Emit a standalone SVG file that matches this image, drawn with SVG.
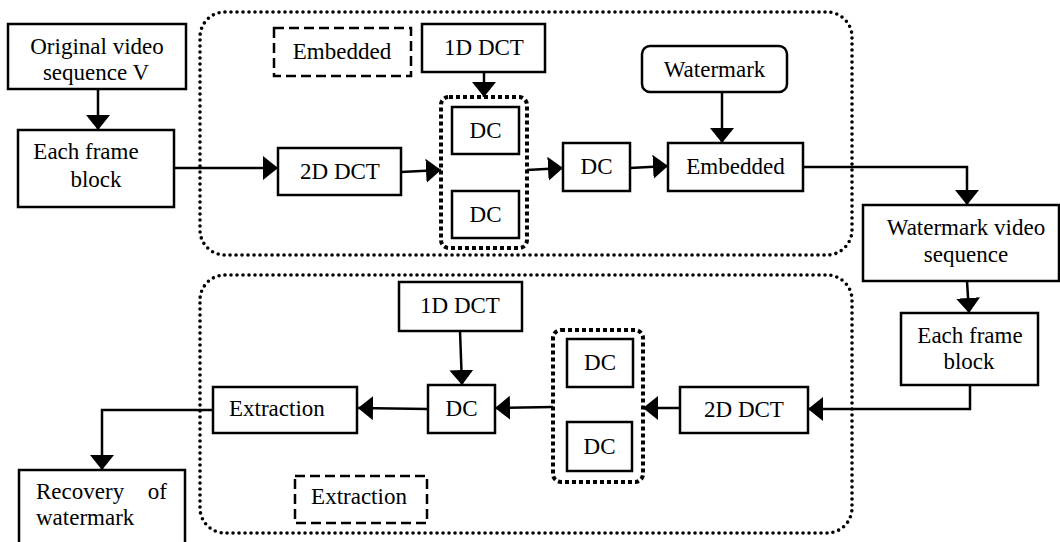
<svg xmlns="http://www.w3.org/2000/svg" width="1060" height="542" viewBox="0 0 1060 542">
  <defs>
    <marker id="arrow" markerUnits="userSpaceOnUse" markerWidth="16" markerHeight="24" refX="15" refY="12" orient="auto">
      <path d="M0,0 L15,12 L0,24 Z" fill="#000"/>
    </marker>
    <style>
      .box { fill: #fff; stroke: #000; stroke-width: 2.5; }
      .dash { fill: none; stroke: #000; stroke-width: 2.5; stroke-dasharray: 10 5; }
      .region { fill: none; stroke: #000; stroke-width: 3.6; stroke-linecap: round; stroke-dasharray: 0 6; }
      .group { fill: none; stroke: #000; stroke-width: 4; stroke-dasharray: 4 3; }
      .edge { fill: none; stroke: #000; stroke-width: 2.5; marker-end: url(#arrow); }
      text { font-family: "Liberation Serif", "Times New Roman", serif; font-size: 23px; fill: #000; }
      .c { text-anchor: middle; }
    </style>
  </defs>

  <!-- dotted regions: embedding (top) and extraction (bottom) -->
  <g id="regions">
    <rect class="region" x="200" y="12" width="652" height="243" rx="25"/>
    <rect class="region" x="200" y="275" width="652" height="258" rx="25"/>
  </g>

  <!-- connectors -->
  <g id="connectors">
    <path class="edge" d="M98,89 L98,130"/>
    <path class="edge" d="M174,168 L278,168"/>
    <path class="edge" d="M401,172 L441,170"/>
    <path class="edge" d="M484,72 L484,97"/>
    <path class="edge" d="M527,170 L563,168"/>
    <path class="edge" d="M630,168 L668,166"/>
    <path class="edge" d="M722,92 L722,143"/>
    <path class="edge" d="M803,167 L967,167 L967,205"/>
    <path class="edge" d="M967,281 L969,313"/>
    <path class="edge" d="M970,385 L970,409 L808,409"/>
    <path class="edge" d="M680,408 L643,408"/>
    <path class="edge" d="M553,407 L495,408"/>
    <path class="edge" d="M460,331 L462,385"/>
    <path class="edge" d="M428,409 L358,408"/>
    <path class="edge" d="M213,410 L102,410 L102,470"/>
  </g>

  <!-- embedding side -->
  <g id="original-video">
    <rect class="box" x="8" y="24" width="178" height="65"/>
    <text class="c" x="97" y="54">Original video</text>
    <text class="c" x="96" y="80">sequence V</text>
  </g>
  <g id="frame-block-1">
    <rect class="box" x="18" y="130" width="156" height="77"/>
    <text class="c" x="86" y="159">Each frame</text>
    <text class="c" x="96" y="187">block</text>
  </g>
  <g id="label-embedded">
    <rect class="dash" x="274" y="28" width="137" height="48"/>
    <text class="c" x="342" y="59">Embedded</text>
  </g>
  <g id="dct2d-1">
    <rect class="box" x="278" y="148" width="123" height="47"/>
    <text class="c" x="340" y="179">2D DCT</text>
  </g>
  <g id="dct1d-1">
    <rect class="box" x="422" y="24" width="123" height="48"/>
    <text class="c" x="484" y="55">1D DCT</text>
  </g>
  <g id="dc-group-1">
    <rect class="group" x="441" y="97" width="86" height="151" rx="8"/>
    <rect class="box" x="452" y="107" width="67" height="47"/>
    <text class="c" x="485.5" y="138">DC</text>
    <rect class="box" x="452" y="191" width="67" height="47"/>
    <text class="c" x="485.5" y="222">DC</text>
  </g>
  <g id="dc-1">
    <rect class="box" x="563" y="143" width="67" height="48"/>
    <text class="c" x="596.5" y="174">DC</text>
  </g>
  <g id="watermark">
    <rect class="box" x="642" y="46" width="145" height="46" rx="8"/>
    <text class="c" x="714.5" y="77">Watermark</text>
  </g>
  <g id="embedded">
    <rect class="box" x="668" y="143" width="135" height="48"/>
    <text class="c" x="735.5" y="174">Embedded</text>
  </g>
  <g id="watermark-video">
    <rect class="box" x="863" y="205" width="196" height="76"/>
    <text class="c" x="966" y="235">Watermark video</text>
    <text class="c" x="966" y="262">sequence</text>
  </g>

  <!-- extraction side -->
  <g id="frame-block-2">
    <rect class="box" x="901" y="313" width="137" height="72"/>
    <text class="c" x="970" y="343">Each frame</text>
    <text class="c" x="969" y="369">block</text>
  </g>
  <g id="dct2d-2">
    <rect class="box" x="680" y="387" width="128" height="46"/>
    <text class="c" x="744" y="417">2D DCT</text>
  </g>
  <g id="dc-group-2">
    <rect class="group" x="553" y="330" width="90" height="152" rx="8"/>
    <rect class="box" x="567" y="339" width="66" height="48"/>
    <text class="c" x="600" y="370">DC</text>
    <rect class="box" x="567" y="422" width="65" height="49"/>
    <text class="c" x="599.5" y="454">DC</text>
  </g>
  <g id="dct1d-2">
    <rect class="box" x="399" y="282" width="123" height="49"/>
    <text class="c" x="460" y="313">1D DCT</text>
  </g>
  <g id="dc-2">
    <rect class="box" x="428" y="385" width="67" height="48"/>
    <text class="c" x="461.5" y="416">DC</text>
  </g>
  <g id="extraction">
    <rect class="box" x="213" y="387" width="144" height="46"/>
    <text x="229" y="416">Extraction</text>
  </g>
  <g id="label-extraction">
    <rect class="dash" x="295" y="476" width="132" height="47"/>
    <text class="c" x="359" y="504">Extraction</text>
  </g>
  <g id="recovery">
    <rect class="box" x="19" y="470" width="166" height="80"/>
    <text x="36" y="499">Recovery</text>
    <text x="167" y="499" text-anchor="end">of</text>
    <text x="36" y="525">watermark</text>
  </g>
</svg>
